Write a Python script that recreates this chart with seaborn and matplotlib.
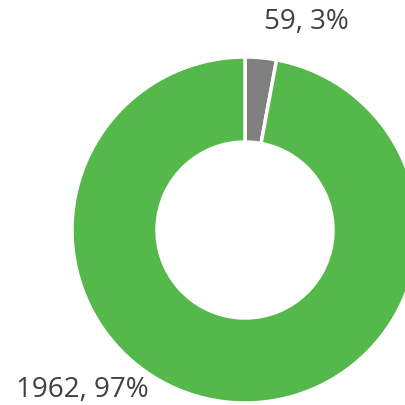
import matplotlib
matplotlib.use("Agg")
import matplotlib.pyplot as plt
import seaborn as sns

labels = ["Other", "Main"]
counts = [59, 1962]
colors = ["#808080", "#55B84A"]

sns.set_theme(style="white")
plt.rcParams['font.family'] = ['Open Sans', 'DejaVu Sans']

fig = plt.figure(figsize=(4.06, 4.05), dpi=100)
ax = fig.add_axes([0, 0, 1, 1])

total = sum(counts)
ax.pie(
    counts,
    colors=colors,
    startangle=90,
    counterclock=False,
    center=(245, 175),
    radius=173,
    wedgeprops=dict(width=85, edgecolor='white', linewidth=2.5),
    frame=True,
)
ax.set_xlim(0, 406)
ax.set_ylim(0, 405)
ax.set_aspect('equal')
ax.axis('off')

# data labels
pos = [(306, 383), (82, 15)]
for (x, y), c in zip(pos, counts):
    ax.text(x, y, f"{c}, {round(c / total * 100)}%", ha='center', va='center',
            fontsize=20, color='#404040')

fig.savefig("out.png", dpi=100)
